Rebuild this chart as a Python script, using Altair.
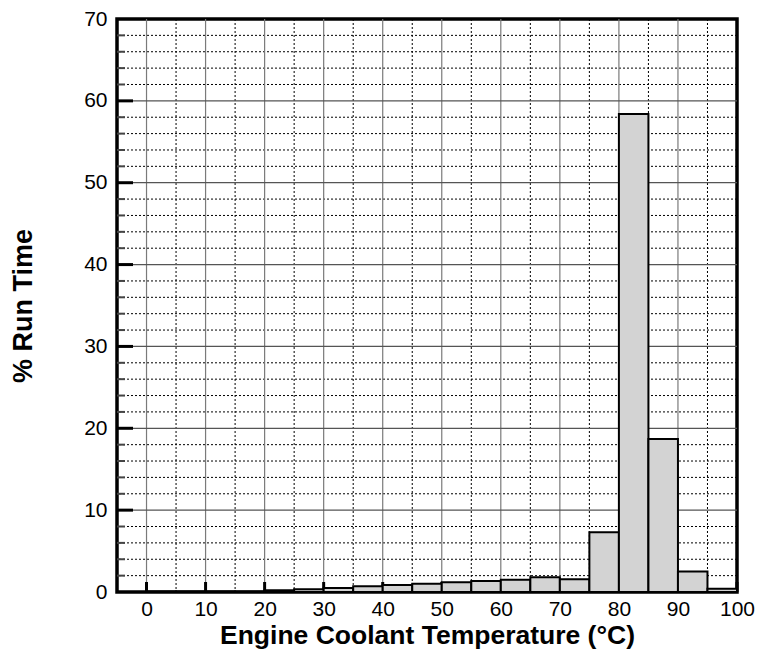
import altair as alt
import pandas as pd

# Histogram bins (°C, lower edge / upper edge) and % run time
bin_start = [0, 5, 10, 15, 20, 25, 30, 35, 40, 45, 50, 55, 60, 65, 70, 75, 80, 85, 90, 95]
bin_end = [5, 10, 15, 20, 25, 30, 35, 40, 45, 50, 55, 60, 65, 70, 75, 80, 85, 90, 95, 100]
run_time = [0.05, 0.05, 0.05, 0.05, 0.2, 0.35, 0.5, 0.7, 0.85, 1.0, 1.2, 1.35, 1.5, 1.8, 1.55,
            7.3, 58.4, 18.7, 2.5, 0.4]

x_ticks = [0, 10, 20, 30, 40, 50, 60, 70, 80, 90, 100]
x_major_grid = [0, 10, 20, 30, 40, 50, 60, 70, 80, 90]
x_minor_grid = [5, 15, 25, 35, 45, 55, 65, 75, 85, 95]
y_ticks = [0, 10, 20, 30, 40, 50, 60, 70]
y_major_grid = [10, 20, 30, 40, 50, 60]
y_minor_grid = [2, 4, 6, 8, 12, 14, 16, 18, 22, 24, 26, 28, 32, 34, 36, 38,
                42, 44, 46, 48, 52, 54, 56, 58, 62, 64, 66, 68]

W, H = 620, 573
FONT = "Liberation Sans"

bars = pd.DataFrame({"start": bin_start, "end": bin_end, "pct": run_time,
                     "base": [0] * len(run_time)})
xs = alt.Scale(domain=[-5, 100], nice=False, zero=False)
ys = alt.Scale(domain=[0, 70], nice=False)

x_axis = alt.Axis(values=x_ticks, grid=False, ticks=False, domain=False,
                  labelFont=FONT, labelFontSize=21, labelColor="black",
                  labelPadding=6, labelFlush=False, labelOverlap=False,
                  title="Engine Coolant Temperature (°C)",
                  titleFont=FONT, titleFontSize=26.5, titleFontWeight="bold",
                  titleColor="black", titleBaseline="middle", titleY=43)
y_axis = alt.Axis(values=y_ticks, grid=False, ticks=False, domain=False,
                  labelFont=FONT, labelFontSize=21, labelColor="black",
                  labelPadding=10, labelFlush=False, labelOverlap=False,
                  title="% Run Time",
                  titleFont=FONT, titleFontSize=27, titleFontWeight="bold",
                  titleColor="black", titleBaseline="middle", titleX=-94)

X = lambda f: alt.X(f, scale=xs, axis=x_axis, title="Engine Coolant Temperature (°C)")
Y = lambda f: alt.Y(f, scale=ys, axis=y_axis, title="% Run Time")

vminor = alt.Chart(pd.DataFrame({"x": x_minor_grid})).mark_rule(
    color="black", strokeWidth=1, strokeDash=[2, 2]).encode(x=X("x:Q"))
hminor = alt.Chart(pd.DataFrame({"y": y_minor_grid})).mark_rule(
    color="black", strokeWidth=1, strokeDash=[2, 2]).encode(y=Y("y:Q"))
vmajor = alt.Chart(pd.DataFrame({"x": x_major_grid})).mark_rule(
    color="#7a7a7a", strokeWidth=1.2).encode(x=X("x:Q"))
hmajor = alt.Chart(pd.DataFrame({"y": y_major_grid})).mark_rule(
    color="#555555", strokeWidth=1.2).encode(y=Y("y:Q"))

xtick = alt.Chart(pd.DataFrame({"x": x_ticks})).mark_rule(
    color="black", strokeWidth=3).encode(
    x=X("x:Q"), y=alt.value(H), y2=alt.value(H - 10))
ytick = alt.Chart(pd.DataFrame({"y": y_major_grid})).mark_rule(
    color="black", strokeWidth=3).encode(
    y=Y("y:Q"), x=alt.value(0), x2=alt.value(16))
ytick_minor = alt.Chart(pd.DataFrame({"y": y_minor_grid})).mark_rule(
    color="#444444", strokeWidth=2).encode(
    y=Y("y:Q"), x=alt.value(0), x2=alt.value(8))

bar = alt.Chart(bars).mark_rect(fill="#d3d3d3", stroke="black", strokeWidth=2).encode(
    x=X("start:Q"),
    x2="end:Q",
    y=Y("pct:Q"),
    y2="base:Q",
)

chart = alt.layer(vminor, hminor, vmajor, hmajor, xtick, ytick, ytick_minor, bar).properties(
    width=W, height=H,
    autosize=alt.AutoSizeParams(type="none"),
    padding={"left": 109, "top": 11, "right": 18, "bottom": 58},
    background="white",
).configure_view(stroke="black", strokeWidth=3.5)

chart.save("out.html", embed_options={"renderer": "svg", "actions": False})
